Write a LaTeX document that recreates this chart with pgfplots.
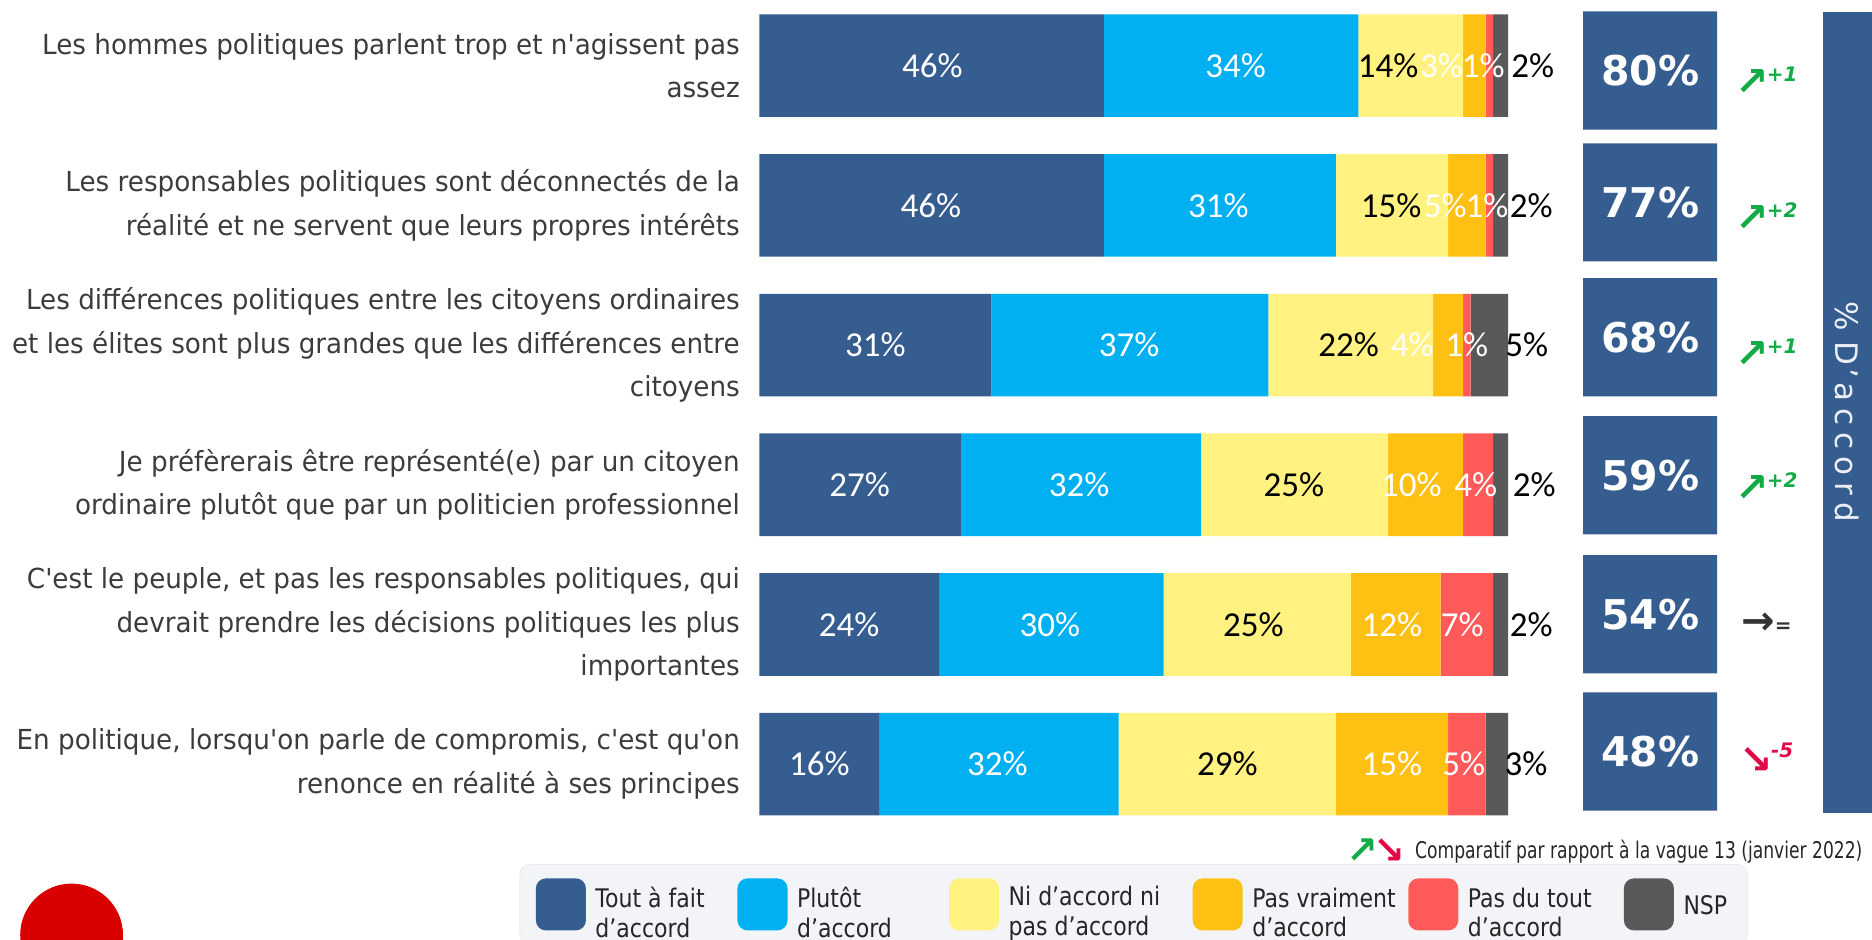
\documentclass[border=0pt]{standalone}
\usepackage{pgfplots}
\pgfplotsset{compat=1.18}
\usepackage{pgfplotstable}
\usepackage{fontspec}
\setmainfont{DejaVu Sans}
\newfontfamily\tah{DejaVu Sans}[FakeStretch=0.95]
\newfontfamily\legf{DejaVu Sans}[FakeStretch=0.86]
\newfontfamily\narrowf{DejaVu Sans}[FakeStretch=0.745]
\newfontfamily\calf{Carlito}

\definecolor{c1}{RGB}{54,93,143}
\definecolor{c2}{RGB}{0,176,240}
\definecolor{c3}{RGB}{255,242,128}
\definecolor{c4}{RGB}{255,192,20}
\definecolor{c5}{RGB}{255,90,90}
\definecolor{c6}{RGB}{89,89,89}
\definecolor{lblgray}{RGB}{60,60,60}
\definecolor{upgreen}{RGB}{20,170,70}
\definecolor{dnred}{RGB}{225,10,70}
\definecolor{legbg}{RGB}{242,244,247}

\DeclareRobustCommand\up[1]{{\color{upgreen}\bfseries\fontsize{20}{20}\selectfont\symbol{"2197}\kern-1pt\raisebox{0.35em}{\itshape\fontsize{10}{10}\selectfont #1}}}
\DeclareRobustCommand\dn[1]{{\color{dnred}\bfseries\fontsize{20}{20}\selectfont\symbol{"2198}\kern-1pt\raisebox{0.4em}{\itshape\fontsize{10}{10}\selectfont #1}}}
\DeclareRobustCommand\eq{{\color{black!80}\bfseries\fontsize{20}{20}\selectfont\symbol{"2192}\raisebox{0.05em}{\itshape\fontsize{10}{10}\selectfont =}}}

\pgfplotsset{legimg/.style={legend image code/.code={\fill[##1,draw=none] (0pt,-13pt) rectangle (25pt,13pt);}}}

\pgfplotstableread{
row a b c d e f
0 46 34 14 3 1 2
1 46 31 15 5 1 2
2 31 37 22 4 1 5
3 27 32 25 10 4 2
4 24 30 25 12 7 2
5 16 32 29 15 5 3
}\shares

\pgfplotstableread{
x y m
23.1 0 46
63.6 0 34
91.1 0 3
96.7 0 1
22.9 1 46
61.3 1 31
91.6 1 5
97.2 1 1
15.5 2 31
49.4 2 37
87.2 2 4
94.5 2 1
13.4 3 27
42.7 3 32
87.1 3 10
95.7 3 4
12.0 4 24
38.8 4 30
84.5 4 12
93.9 4 7
8.0 5 16
31.8 5 32
84.5 5 15
94.1 5 5
}\whitelabs

\pgfplotstableread{
x y m
84.0 0 14
103.3 0 2
84.4 1 15
103.1 1 2
78.7 2 22
102.5 2 5
71.4 3 25
103.5 3 2
66.0 4 25
103.1 4 2
62.5 5 29
102.4 5 3
}\blacklabs

\begin{document}
\begin{tikzpicture}
\path[use as bounding box] (0,0) rectangle (936pt,-469.8pt);

% red logo (decoration)
\fill[red!85!black] (35.8pt,-467.5pt) circle (25.7pt);

% main stacked bars
\begin{axis}[
  at={(379.7pt,-1.4pt)}, anchor=north west,
  scale only axis, width=374.3pt, height=412.1pt,
  xbar stacked, bar width=51.3pt,
  xmin=0, xmax=100, ymin=-0.45, ymax=5.45, y dir=reverse,
  axis line style={draw=none}, major tick length=0pt,
  xtick=\empty, ytick={0,...,5},
  yticklabels={
    {Les hommes politiques parlent trop et n'agissent pas\\assez},
    {Les responsables politiques sont déconnectés de la\\réalité et ne servent que leurs propres intérêts},
    {Les différences politiques entre les citoyens ordinaires\\et les élites sont plus grandes que les différences entre\\citoyens},
    {Je préfèrerais être représenté(e) par un citoyen\\ordinaire plutôt que par un politicien professionnel},
    {C'est le peuple, et pas les responsables politiques, qui\\devrait prendre les décisions politiques les plus\\importantes},
    {En politique, lorsqu'on parle de compromis, c'est qu'on\\renonce en réalité à ses principes}},
  yticklabel style={anchor=east, inner sep=0pt, xshift=-9.6pt, align=right,
    font=\tah\fontsize{13.8}{21.8}\selectfont, text=lblgray},
  legend style={at={(0.5,0)}, anchor=north, yshift=-18.5pt,
    legend columns=6, fill=legbg, draw=gray!15, rounded corners=5pt,
    inner xsep=8pt, inner ysep=7pt,
    font=\legf\fontsize{12.8}{14.6}\selectfont, text=black!85,
    nodes={inner sep=0pt},
    /tikz/every odd column/.append style={column sep=4.8pt}},
  clip=false,
]
\addplot[fill=c1, draw=none, legimg] table[x=a,y=row] {\shares};
\addlegendentry{\parbox[c]{71pt}{Tout à fait\\d’accord}}
\addplot[fill=c2, draw=none, legimg] table[x=b,y=row] {\shares};
\addlegendentry{\parbox[c]{76pt}{Plutôt\\d’accord}}
\addplot[fill=c3, draw=none, legimg] table[x=c,y=row] {\shares};
\addlegendentry{\parbox[c]{92pt}{Ni d’accord ni\\pas d’accord}}
\addplot[fill=c4, draw=none, legimg] table[x=d,y=row] {\shares};
\addlegendentry{\parbox[c]{78pt}{Pas vraiment\\d’accord}}
\addplot[fill=c5, draw=none, legimg] table[x=e,y=row] {\shares};
\addlegendentry{\parbox[c]{78pt}{Pas du tout\\d’accord}}
\addplot[fill=c6, draw=none, legimg] table[x=f,y=row] {\shares};
\addlegendentry{\parbox[c]{24pt}{NSP}}
\end{axis}

% value labels overlay
\begin{axis}[
  at={(379.7pt,-1.4pt)}, anchor=north west,
  scale only axis, width=374.3pt, height=412.1pt,
  xmin=0, xmax=100, ymin=-0.45, ymax=5.45, y dir=reverse,
  hide axis, clip=false,
]
\addplot[only marks, mark=none, point meta=explicit symbolic,
  nodes near coords={\pgfplotspointmeta\%},
  nodes near coords style={anchor=center, inner sep=0pt, text=white,
    font=\calf\fontsize{17.5}{17.5}\selectfont}]
  table[x=x,y=y,meta=m] {\whitelabs};
\addplot[only marks, mark=none, point meta=explicit symbolic,
  nodes near coords={\pgfplotspointmeta\%},
  nodes near coords style={anchor=center, inner sep=0pt, text=black,
    font=\calf\fontsize{17.5}{17.5}\selectfont}]
  table[x=x,y=y,meta=m] {\blacklabs};
\end{axis}

% totals boxes and trends
\begin{axis}[
  at={(791.6pt,0pt)}, anchor=north west,
  scale only axis, width=66.9pt, height=469.8pt,
  xmin=0, xmax=1, ymin=0, ymax=787, y dir=reverse,
  hide axis, clip=false,
]
\fill[c1] (axis cs:1.795,10) rectangle (axis cs:2.6,681);
\node[rotate=-90, text=white!90!c1, font=\fontsize{15.5}{15.5}\selectfont] at (axis cs:1.973,345)
  {\%\kern5pt D\kern2pt’\kern2pt a\kern3.5pt c\kern3.5pt c\kern3.5pt o\kern3.5pt r\kern3.5pt d};
\addplot[xbar, fill=c1, draw=none, bar width=59.1pt, bar shift=0pt,
  point meta=explicit symbolic,
  nodes near coords={\pgfplotspointmeta\%},
  nodes near coords style={anchor=center, xshift=-33.45pt, text=white, inner sep=0pt,
    font=\bfseries\fontsize{20.5}{20.5}\selectfont}]
  coordinates {(1,59) [80] (1,169.5) [77] (1,282.5) [68] (1,398) [59] (1,514.5) [54] (1,629.5) [48]};
\addplot[only marks, mark=none, point meta=explicit symbolic,
  nodes near coords={\pgfplotspointmeta},
  nodes near coords style={anchor=center, inner sep=0pt}]
  coordinates {(1.37,68) [\up{+1}] (1.37,182) [\up{+2}] (1.37,296) [\up{+1}] (1.37,408) [\up{+2}] (1.37,522) [\eq] (1.37,635) [\dn{-5}]};
\end{axis}

% note
\node[anchor=west, inner sep=0pt, font=\bfseries\fontsize{19}{19}\selectfont] at (672.8pt,-425.7pt)
  {\textcolor{upgreen}{\symbol{"2197}}\kern-2pt\textcolor{dnred}{\symbol{"2198}}};
\node[anchor=west, inner sep=0pt, text=black!85, font=\narrowf\fontsize{11.5}{11.5}\selectfont] at (707.4pt,-425.7pt)
  {Comparatif par rapport à la vague 13 (janvier 2022)};
\end{tikzpicture}
\end{document}
